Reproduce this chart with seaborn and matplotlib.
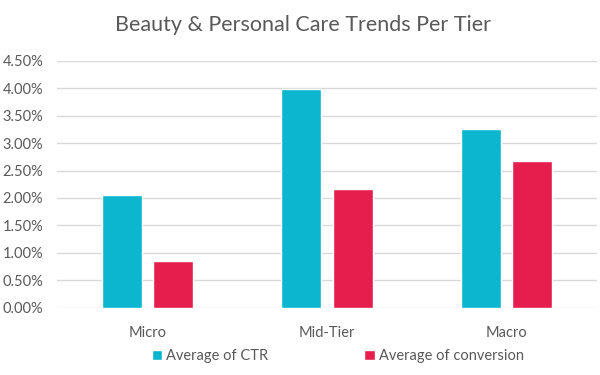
import matplotlib
matplotlib.use("Agg")
import matplotlib.pyplot as plt
import seaborn as sns
import pandas as pd
from matplotlib.ticker import FuncFormatter, MultipleLocator

categories = ["Micro", "Mid-Tier", "Macro"]
ctr = [2.06, 3.98, 3.25]
conversion = [0.85, 2.17, 2.67]
series_names = ["Average of CTR", "Average of conversion"]
colors = ["#0CB6CE", "#E61E4E"]

df = pd.DataFrame({
    "tier": categories * 2,
    "value": ctr + conversion,
    "series": [series_names[0]] * 3 + [series_names[1]] * 3,
})

sns.set_style("white")
plt.rcParams["font.family"] = ["Lato", "DejaVu Sans"]

fig = plt.figure(figsize=(6, 3.75), dpi=100)
ax = fig.add_axes([0.0955, 0.1795, 0.899, 0.6585])

sns.barplot(data=df, x="tier", y="value", hue="series", palette=colors,
            width=0.57, gap=0.22, ax=ax, saturation=1, legend=True)

ax.set_ylim(0, 4.5)
ax.set_xlim(-0.5, 2.5)
ax.yaxis.set_major_locator(MultipleLocator(0.5))
ax.yaxis.set_major_formatter(FuncFormatter(lambda v, p: f"{v:.2f}%"))
ax.grid(axis="y", color="#D9D9D9", linewidth=1)
ax.set_axisbelow(True)
for s in ax.spines.values():
    s.set_visible(False)
ax.tick_params(axis="both", length=0, colors="#595959", labelsize=10.5)
ax.tick_params(axis="y", pad=10)
ax.tick_params(axis="x", pad=13)
ax.set_xlabel("")
ax.set_ylabel("")

leg = ax.legend(loc="upper center", bbox_to_anchor=(0.52, -0.115), ncol=2,
                frameon=False, fontsize=10.5, handlelength=0.7, handleheight=0.7,
                handletextpad=0.3, columnspacing=6.6, labelcolor="#595959")

fig.text(0.505, 0.933, "Beauty & Personal Care Trends Per Tier", ha="center",
         va="center", fontsize=15.5, color="#595959")

fig.savefig("out.png", dpi=100)
